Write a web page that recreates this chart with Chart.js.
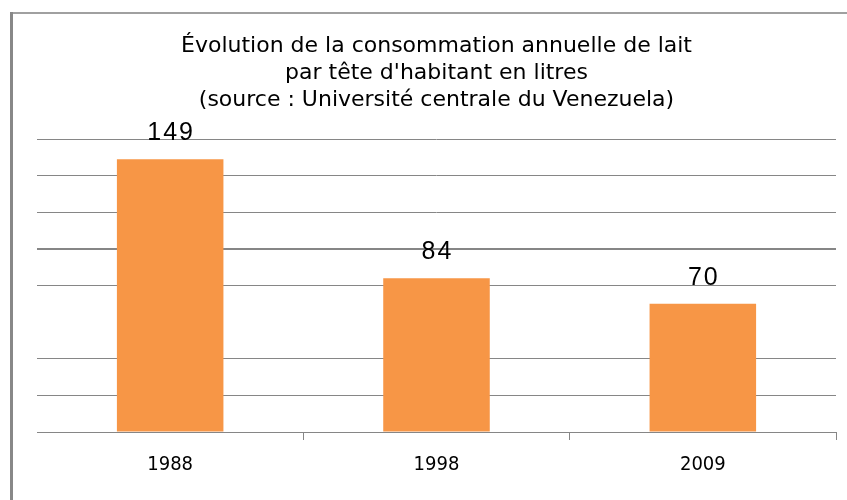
<!DOCTYPE html>
<html>
<head>
<meta charset="utf-8">
<script src="https://cdn.jsdelivr.net/npm/chart.js@4"></script>
<style>
html,body{margin:0;padding:0;background:#fff;}
#wrap{width:847px;height:500px;position:relative;}
</style>
</head>
<body>
<div id="wrap"><canvas id="c" width="847" height="500"></canvas></div>
<script>
const categories = ["1988", "1998", "2009"];
const consumption = [149, 84, 70];
const titleLines = [
  "Évolution de la consommation annuelle de lait",
  "par tête d'habitant en litres",
  "(source : Université centrale du Venezuela)"
];
const yMin = 0, yMax = 160, yStep = 20;

const frame = {
  id: 'frame',
  beforeDraw(chart) {
    const ctx = chart.ctx;
    ctx.save();
    ctx.fillStyle = '#ffffff';
    ctx.fillRect(0, 0, chart.width, chart.height);
    ctx.strokeStyle = '#a0a0a0';
    ctx.lineWidth = 2;
    ctx.beginPath();
    ctx.moveTo(11, 13); ctx.lineTo(chart.width, 13);
    ctx.stroke();
    ctx.strokeStyle = '#888888';
    ctx.lineWidth = 3;
    ctx.beginPath();
    ctx.moveTo(11.5, 12); ctx.lineTo(11.5, chart.height);
    ctx.stroke();
    ctx.restore();
  }
};

const valueLabels = {
  id: 'valueLabels',
  afterDatasetsDraw(chart) {
    const ctx = chart.ctx;
    const meta = chart.getDatasetMeta(0);
    ctx.save();
    ctx.fillStyle = '#000';
    ctx.font = '25px "Liberation Sans", Arial, sans-serif';
    ctx.textAlign = 'center';
    ctx.textBaseline = 'middle';
    if ('letterSpacing' in ctx) ctx.letterSpacing = '2px';
    meta.data.forEach((bar, i) => {
      ctx.fillText(String(chart.data.datasets[0].data[i]), bar.x + 1, bar.y - 26);
    });
    ctx.restore();
  }
};

new Chart(document.getElementById('c'), {
  type: 'bar',
  data: {
    labels: categories,
    datasets: [{
      data: consumption,
      backgroundColor: '#F79646',
      borderWidth: 0,
      barPercentage: 0.4,
      categoryPercentage: 1.0
    }]
  },
  options: {
    responsive: false,
    animation: false,
    devicePixelRatio: 1,
    layout: { padding: { left: 37, right: 11, top: 0, bottom: 10 } },
    plugins: {
      legend: { display: false },
      tooltip: { enabled: false },
      title: {
        display: true,
        text: titleLines,
        color: '#000',
        font: { family: '"DejaVu Sans", sans-serif', size: 22, weight: 'normal', lineHeight: 1.2273 },
        padding: { top: 33, bottom: 25 }
      }
    },
    scales: {
      x: {
        grid: {
          display: true,
          drawOnChartArea: false,
          drawTicks: true,
          tickLength: 8,
          color: (c) => c.index === 0 ? 'rgba(0,0,0,0)' : '#868686',
          lineWidth: 1
        },
        border: { display: true, color: '#868686', width: 1 },
        ticks: {
          color: '#000',
          font: { family: '"DejaVu Sans Condensed", "DejaVu Sans", sans-serif', size: 20 },
          padding: 13
        }
      },
      y: {
        min: yMin,
        max: yMax,
        ticks: { display: false, stepSize: yStep },
        border: { display: false },
        grid: {
          drawTicks: false,
          color: (c) => (c.tick && c.tick.value === 60) ? 'rgba(0,0,0,0)' : '#868686',
          lineWidth: (c) => (c.tick && c.tick.value === 100) ? 2 : 1
        }
      }
    }
  },
  plugins: [frame, valueLabels]
});
</script>
</body>
</html>
